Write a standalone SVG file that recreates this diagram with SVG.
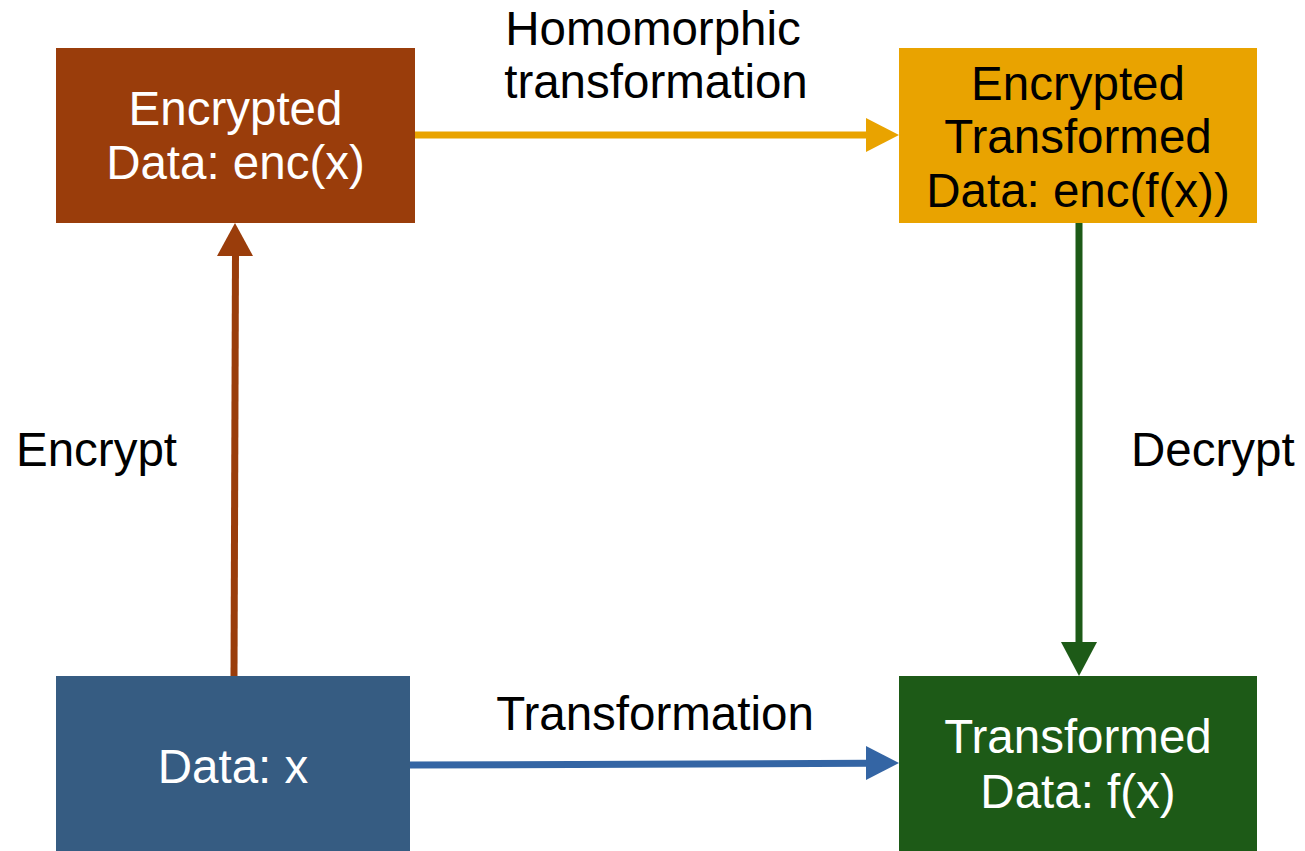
<svg xmlns="http://www.w3.org/2000/svg" width="1305" height="851" viewBox="0 0 1305 851">
<style>
text{font-family:"Liberation Sans",Arial,sans-serif;font-size:47.5px;}
.w{fill:#ffffff;text-anchor:middle;}
.k{fill:#000000;}
.c{text-anchor:middle;}
</style>
<rect width="1305" height="851" fill="#ffffff"/>
<g id="connectors">
<g id="homomorphic">
<line x1="415" y1="135" x2="868" y2="135" stroke="#E9A300" stroke-width="7"/>
<polygon points="866,118 899,135 866,152" fill="#E9A300"/>
</g>
<g id="encrypt">
<line x1="234" y1="676" x2="235.5" y2="252" stroke="#9A3D0B" stroke-width="7"/>
<polygon points="217,256 235,223 253,256" fill="#9A3D0B"/>
</g>
<g id="decrypt">
<line x1="1079" y1="222" x2="1079" y2="646" stroke="#1D5A17" stroke-width="7"/>
<polygon points="1061,642 1079,676 1097,642" fill="#1D5A17"/>
</g>
<g id="transformation">
<line x1="410" y1="765" x2="868" y2="763.3" stroke="#3465A4" stroke-width="7"/>
<polygon points="866,746 899,763 866,780" fill="#3465A4"/>
</g>
</g>
<g id="label-homomorphic">
<text class="k c" x="653" y="45">Homomorphic</text>
<text class="k c" x="656" y="98">transformation</text>
</g>
<g id="label-encrypt"><text class="k" x="16" y="466">Encrypt</text></g>
<g id="label-decrypt"><text class="k" x="1131" y="466">Decrypt</text></g>
<g id="label-transformation"><text class="k c" x="655" y="730">Transformation</text></g>
<g id="node-encrypted">
<rect x="56" y="48" width="359" height="175" fill="#9A3D0B"/>
<text class="w" x="235.5" y="125">Encrypted</text>
<text class="w" x="235.5" y="179">Data: enc(x)</text>
</g>
<g id="node-encrypted-transformed">
<rect x="899" y="48" width="358" height="175" fill="#E9A300"/>
<text class="k c" x="1078" y="100">Encrypted</text>
<text class="k c" x="1078" y="153">Transformed</text>
<text class="k c" x="1078" y="207">Data: enc(f(x))</text>
</g>
<g id="node-data">
<rect x="56" y="676" width="354" height="175" fill="#365C82"/>
<text class="w" x="233" y="783">Data: x</text>
</g>
<g id="node-transformed">
<rect x="899" y="676" width="358" height="175" fill="#1D5A17"/>
<text class="w" x="1078" y="753">Transformed</text>
<text class="w" x="1078" y="808">Data: f(x)</text>
</g>
</svg>
